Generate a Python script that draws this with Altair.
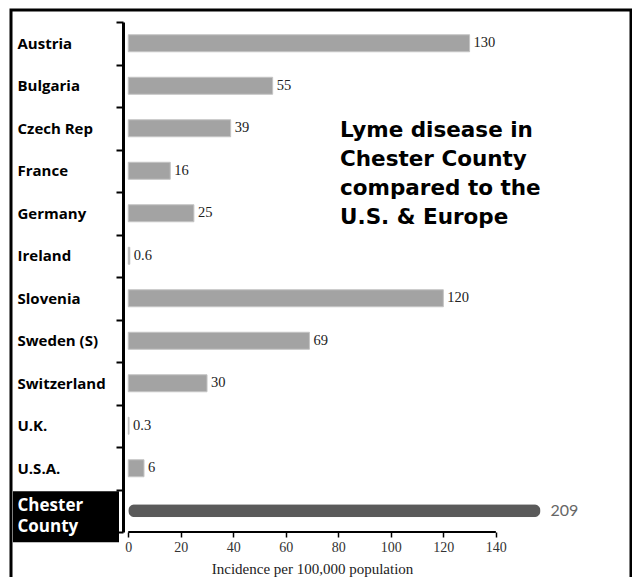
import altair as alt
import pandas as pd

countries = ["Austria", "Bulgaria", "Czech Rep", "France", "Germany", "Ireland",
             "Slovenia", "Sweden (S)", "Switzerland", "U.K.", "U.S.A.", "Chester County"]
incidence = [130, 55, 39, 16, 25, 0.6, 120, 69, 30, 0.3, 6, 209]
highlight = "Chester County"
x_ticks = [0, 20, 40, 60, 80, 100, 120, 140]
title_lines = ["Lyme disease in", "Chester County", "compared to the", "U.S. & Europe"]
x_title = "Incidence per 100,000 population"

df = pd.DataFrame({"country": countries, "value": incidence})

W, H = 417.5, 510
hi_test = f"datum.value == '{highlight}'"

xscale = alt.Scale(domain=[-2, 157], clamp=True, nice=False, zero=False)
x_enc = alt.X("value:Q", scale=xscale,
              axis=alt.Axis(values=x_ticks, domain=False, grid=False, tickSize=5,
                            tickWidth=1.5, tickColor="black", labelFont="Liberation Serif",
                            labelFontSize=14, labelColor="#333", labelPadding=3,
                            title=x_title, titleFont="Liberation Serif", titleFontSize=15,
                            titleFontWeight="normal", titleColor="#222", titlePadding=7,
                            titleX=W * 72 / 159))
y_enc = alt.Y("country:N", sort=countries, scale=alt.Scale(paddingInner=0, paddingOuter=0),
              axis=alt.Axis(title=None, tickBand="extent", tickSize=7, tickWidth=2,
                            tickColor="black", domainColor="black", domainWidth=3,
                            labelAlign="left", labelPadding=99, labelFont="Open Sans",
                            labelFontWeight="bold", labelLineHeight=21,
                            labelBaseline="middle", labelLimit=200,
                            labelFontSize=alt.condition(hi_test, alt.value(17), alt.value(15)),
                            labelOffset=alt.condition(hi_test, alt.value(-5), alt.value(0)),
                            labelColor=alt.condition(hi_test, alt.value("white"), alt.value("black")),
                            labelExpr=f"{hi_test} ? split(datum.value, ' ') : datum.value",
                            zindex=1))

base = alt.Chart(df)
is_hi = f"datum.country == '{highlight}'"
not_hi = f"datum.country != '{highlight}'"

label_box = base.transform_filter(is_hi).mark_rect(
    color="black", height=51, yOffset=6
).encode(y=y_enc, x=alt.value(-110), x2=alt.value(-4))

bars = base.transform_filter(not_hi).mark_bar(
    height=17, color="#a3a3a3", stroke="#c4c4c4", strokeWidth=1
).encode(x=x_enc, y=y_enc)

hi_bar = base.transform_filter(is_hi).mark_bar(
    height=13, color="#5a5a5a", cornerRadius=6.5
).encode(x=x_enc, y=y_enc)

vals = base.transform_filter(not_hi).mark_text(
    align="left", baseline="middle", dx=4, font="Liberation Serif", fontSize=14.5, color="#222"
).encode(x=x_enc, y=y_enc, text=alt.Text("value:Q"))

hi_val = base.transform_filter(is_hi).mark_text(
    align="left", baseline="middle", dx=10, font="Lato", fontSize=16, color="#666"
).encode(x=x_enc, y=y_enc, text=alt.Text("value:Q"))

x_line = alt.Chart(alt.Data(values=[{}])).mark_rule(color="black", strokeWidth=2).encode(
    x=alt.datum(x_ticks[0]), x2=alt.datum(x_ticks[-1]), y=alt.value(H)
)

title = alt.Chart(alt.Data(values=[{}])).mark_text(
    text=title_lines, align="left", baseline="top", font="DejaVu Sans", fontWeight="bold",
    fontSize=21.5, lineHeight=29, color="black"
).encode(x=alt.value(217), y=alt.value(98))

frame = alt.Chart(alt.Data(values=[{}])).mark_rect(
    filled=False, stroke="black", strokeWidth=3
).encode(x=alt.value(-112), x2=alt.value(508), y=alt.value(-12), y2=alt.value(575))

chart = alt.layer(label_box, bars, hi_bar, vals, hi_val, x_line, title, frame).properties(
    width=W, height=H, autosize="none",
    padding={"left": 115, "top": 14, "right": 91, "bottom": 45},
    background="white"
).configure_view(stroke=None)

chart.save("out.html", embed_options={"renderer": "svg", "actions": False})
